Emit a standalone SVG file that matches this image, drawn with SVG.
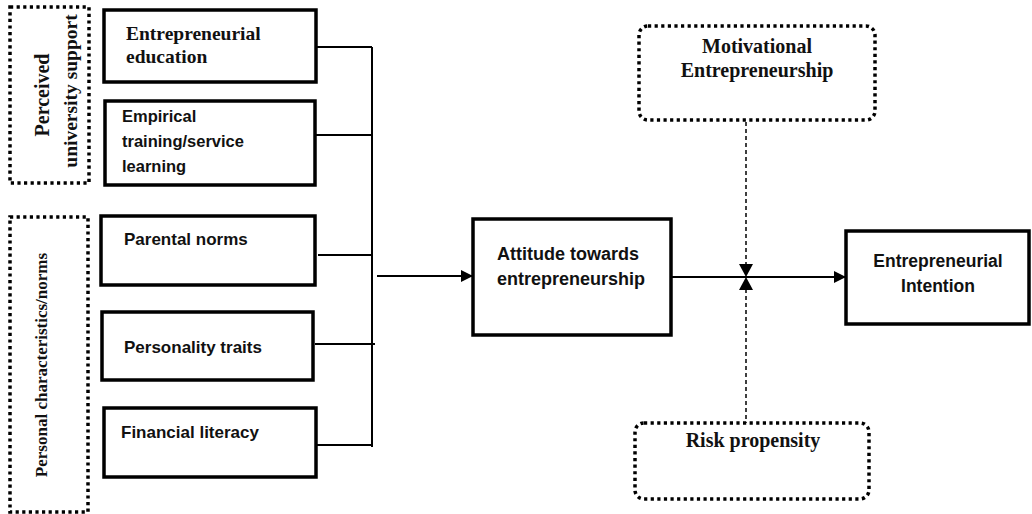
<svg xmlns="http://www.w3.org/2000/svg" width="1032" height="514" viewBox="0 0 1032 514">
<style>
.box{fill:#fff;stroke:#000;stroke-width:3.5}
.dot{fill:none;stroke:#000;stroke-width:3.5;stroke-dasharray:3.2 3.4}
.serif{font-family:"Liberation Serif","Times New Roman",serif;font-weight:bold;fill:#111}
.sans{font-family:"Liberation Sans",Arial,sans-serif;font-weight:bold;fill:#111}
.ln{stroke:#000;stroke-width:2;fill:none}
.dash{stroke:#000;stroke-width:1.5;stroke-dasharray:4 3;fill:none}
</style>
<defs>
<marker id="ah" viewBox="0 0 12 12" refX="12" refY="6" markerWidth="12" markerHeight="12" markerUnits="userSpaceOnUse" orient="auto">
<path d="M0,0 L12,6 L0,12 Z" fill="#000"/>
</marker>
</defs>
<g id="group-university">
<rect class="dot" x="10" y="7" width="79" height="176"/>
<text class="serif" font-size="20" transform="translate(49,95) rotate(-90)" text-anchor="middle">Perceived</text>
<text class="serif" font-size="19.5" transform="translate(77,91) rotate(-90)" text-anchor="middle">university support</text>
</g>
<g id="group-personal">
<rect class="dot" x="10" y="217" width="78" height="295"/>
<text class="serif" font-size="17" transform="translate(47,365) rotate(-90)" text-anchor="middle">Personal characteristics/norms</text>
</g>
<g id="node-education">
<rect class="box" x="104" y="10" width="212" height="72"/>
<text class="serif" font-size="19.5" x="126" y="40">Entrepreneurial</text>
<text class="serif" font-size="19.5" x="126" y="63">education</text>
</g>
<g id="node-empirical">
<rect class="box" x="105" y="101" width="210" height="84"/>
<text class="sans" font-size="16.5" x="122" y="122">Empirical</text>
<text class="sans" font-size="16.5" x="122" y="147">training/service</text>
<text class="sans" font-size="16.5" x="122" y="172">learning</text>
</g>
<g id="node-parental">
<rect class="box" x="101" y="216" width="214" height="69"/>
<text class="sans" font-size="17" x="124" y="245">Parental norms</text>
</g>
<g id="node-personality">
<rect class="box" x="102" y="312" width="211" height="68"/>
<text class="sans" font-size="17" x="124" y="353">Personality traits</text>
</g>
<g id="node-financial">
<rect class="box" x="104" y="408" width="212" height="69"/>
<text class="sans" font-size="17" x="121" y="438">Financial literacy</text>
</g>
<g id="node-attitude">
<rect class="box" x="473" y="219" width="198" height="116"/>
<text class="sans" font-size="18" x="497" y="260">Attitude towards</text>
<text class="sans" font-size="18" x="497" y="285">entrepreneurship</text>
</g>
<g id="node-intention">
<rect class="box" x="846" y="231" width="183" height="93"/>
<text class="sans" font-size="17.5" x="938" y="267" text-anchor="middle">Entrepreneurial</text>
<text class="sans" font-size="17.5" x="938" y="292" text-anchor="middle">Intention</text>
</g>
<g id="node-motivational">
<rect class="dot" x="639" y="26" width="236" height="94" rx="9"/>
<text class="serif" font-size="20" x="757" y="53" text-anchor="middle">Motivational</text>
<text class="serif" font-size="20" x="757" y="77" text-anchor="middle">Entrepreneurship</text>
</g>
<g id="node-risk">
<rect class="dot" x="635" y="423" width="234" height="76" rx="9"/>
<text class="serif" font-size="20" x="753" y="447" text-anchor="middle">Risk propensity</text>
</g>
<g id="connectors">
<path class="ln" d="M372,47 V447"/>
<path class="ln" d="M316,47 H372"/>
<path class="ln" d="M315,135 H373"/>
<path class="ln" d="M318,255 H372"/>
<path class="ln" d="M315,344 H375"/>
<path class="ln" d="M316,445 H372"/>
<path class="ln" d="M377,276 H473" marker-end="url(#ah)"/>
<path class="ln" d="M671,277 H846" marker-end="url(#ah)"/>
<path class="dash" d="M746,122 V265"/>
<path class="dash" d="M746,289 V423"/>
<path d="M739,264 L753,264 L746,277 Z" fill="#000"/>
<path d="M739,290 L753,290 L746,277 Z" fill="#000"/>
</g>
</svg>
